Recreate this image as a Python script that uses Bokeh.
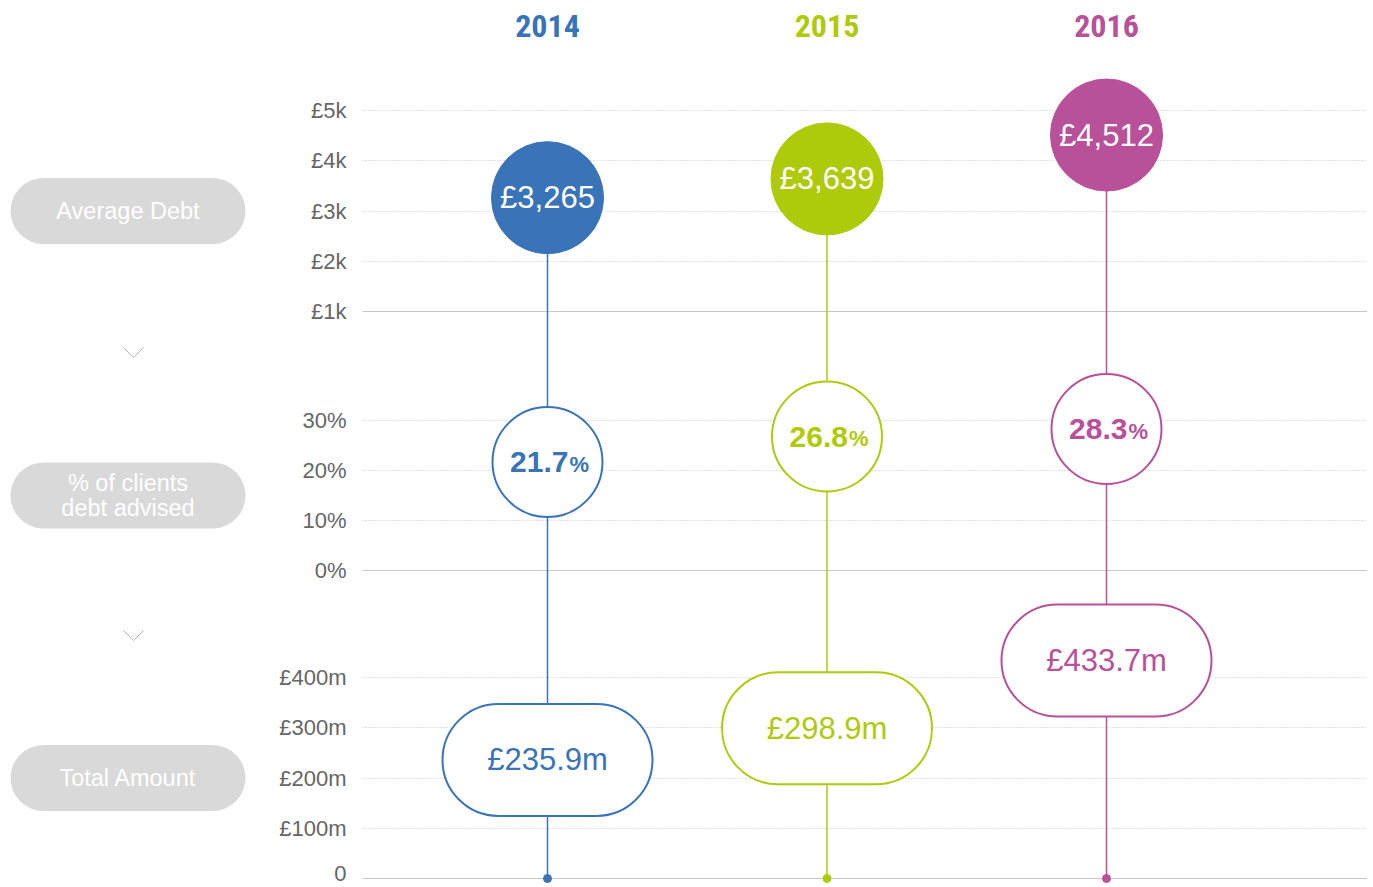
from bokeh.plotting import figure
from bokeh.models import Range1d, FixedTicker, LinearAxis, Grid
from bokeh.layouts import row
from bokeh.core.properties import value
from bokeh.embed import file_html
from bokeh.resources import INLINE

# ---------------- data ----------------
years = ["2014", "2015", "2016"]
year_colors = ["#3973b8", "#afca0b", "#b9509a"]

avg_debt = [3265, 3639, 4512]
avg_debt_labels = ["£3,265", "£3,639", "£4,512"]

pct_advised = [21.7, 26.8, 28.3]
pct_labels = ["21.7", "26.8", "28.3"]

total_amount = [235.9, 298.9, 433.7]
total_labels = ["£235.9m", "£298.9m", "£433.7m"]

debt_ticks = [1000, 2000, 3000, 4000, 5000]
debt_tick_labels = ["£1k", "£2k", "£3k", "£4k", "£5k"]
pct_ticks = [0, 10, 20, 30]
pct_tick_labels = ["0%", "10%", "20%", "30%"]
total_ticks = [0, 100, 200, 300, 400]
total_tick_labels = ["0", "£100m", "£200m", "£300m", "£400m"]

section_labels = ["Average Debt", "% of clients\ndebt advised", "Total Amount"]

# ---------------- layout constants (screen pixels) ----------------
FONT_NAME = "Liberation Sans"
FONT = value(FONT_NAME)
YEAR_FONT = value("Roboto Condensed, DejaVu Sans Condensed, Liberation Sans Narrow, Liberation Sans")
LEFT_W = 270
RIGHT_W = 1097
AXIS_PX = 362
H = 885
YEAR_Y = 25
GRID_COLOR = "#c4c4c4"
BASE_COLOR = "#c8c8c8"
TICK_COLOR = "#666666"

xs = list(range(len(years)))
X_PX0, X_STEP = 547, 279.5
x_range = Range1d((LEFT_W - X_PX0) / X_STEP, (LEFT_W + RIGHT_W - X_PX0) / X_STEP)
X_AXIS = (AXIS_PX - X_PX0) / X_STEP


def px_range(anchor_px, anchor_val, ppu):
    """A range that spans the whole frame height (0 .. H px, top to bottom)."""
    return Range1d(start=anchor_val - (H - anchor_px) / ppu, end=anchor_val + anchor_px / ppu)


def to_px(rng, v):
    return (rng.end - v) / (rng.end - rng.start) * H


def to_val(rng, px):
    return rng.end - px / H * (rng.end - rng.start)


ranges = {
    "debt": px_range(311, debt_ticks[0], 50.25 / 1000),
    "pct": px_range(570, pct_ticks[0], 5.0),
    "total": px_range(878, total_ticks[0], 0.5025),
}

p = figure(width=RIGHT_W, height=H, x_range=x_range, y_range=Range1d(H, 0),
           extra_y_ranges=ranges, output_backend="svg", toolbar_location=None,
           x_axis_location=None, y_axis_location=None, min_border=0)
p.title.visible = False
p.min_border_left = 0
p.min_border_right = 0
p.min_border_top = 0
p.min_border_bottom = 0
p.outline_line_color = None
p.grid.visible = False
p.background_fill_color = "white"
p.border_fill_color = "white"

HAS_CROSS = "cross_bounds" in Grid.properties()


def add_grid(name, ticks, color, dash):
    if HAS_CROSS:
        p.add_layout(Grid(dimension=1, y_range_name=name, ticker=FixedTicker(ticks=ticks),
                          cross_bounds=(X_AXIS, x_range.end), grid_line_color=color,
                          grid_line_dash=dash, grid_line_width=1))
    else:
        p.segment(x0=[X_AXIS] * len(ticks), y0=ticks, x1=[x_range.end] * len(ticks), y1=ticks,
                  y_range_name=name, line_color=color, line_dash=dash, line_width=1)


def add_axis(name, ticks, labels):
    ax = LinearAxis(y_range_name=name, ticker=FixedTicker(ticks=ticks),
                    major_label_overrides=dict(zip(ticks, labels)),
                    fixed_location=X_AXIS)
    ax.axis_line_color = None
    ax.major_tick_line_color = None
    ax.minor_tick_line_color = None
    ax.major_label_standoff = 10
    ax.major_label_text_font = FONT_NAME
    ax.major_label_text_font_size = "22px"
    ax.major_label_text_color = TICK_COLOR
    p.add_layout(ax, "left")
    add_grid(name, ticks[1:], GRID_COLOR, "1 2")
    add_grid(name, ticks[:1], BASE_COLOR, "solid")


add_axis("debt", debt_ticks, debt_tick_labels)
add_axis("pct", pct_ticks, pct_tick_labels)
add_axis("total", total_ticks, total_tick_labels)

# years
p.text(x=xs, y=[YEAR_Y] * len(xs), text=years, text_color=year_colors,
       text_align="center", text_baseline="middle", text_font=YEAR_FONT,
       text_font_size="32px", text_font_style="bold")

# stems: from each average-debt bubble down to the zero of the total-amount scale
stem_end = to_val(ranges["debt"], to_px(ranges["total"], total_ticks[0]))
p.segment(x0=xs, y0=avg_debt, x1=xs, y1=[stem_end] * len(xs), y_range_name="debt",
          line_color=year_colors, line_width=1.5)
p.scatter(x=xs, y=[total_ticks[0]] * len(xs), size=8, color=year_colors, y_range_name="total")

# average debt
p.scatter(x=xs, y=avg_debt, size=112, fill_color=year_colors, line_color=year_colors,
          y_range_name="debt")
p.text(x=xs, y=avg_debt, text=avg_debt_labels, text_color="white", text_align="center",
       text_baseline="middle", text_font=FONT, text_font_size="31px", y_range_name="debt")

# % advised
p.scatter(x=xs, y=pct_advised, size=110, fill_color="white", line_color=year_colors,
          line_width=2, y_range_name="pct")
p.text(x=xs, y=pct_advised, text=pct_labels, text_color=year_colors, text_align="right",
       text_baseline="middle", x_offset=21, y_offset=0, text_font=FONT,
       text_font_size="30px", text_font_style="bold", y_range_name="pct")
p.text(x=xs, y=pct_advised, text=["%"] * len(xs), text_color=year_colors, text_align="left",
       text_baseline="middle", x_offset=22, y_offset=2, text_font=FONT,
       text_font_size="22px", text_font_style="bold", y_range_name="pct")

# total amount
p.rect(x=xs, y=total_amount, width=210, height=112, width_units="screen",
       height_units="screen", fill_color="white", line_color=year_colors, line_width=2,
       border_radius=56, y_range_name="total")
p.text(x=xs, y=total_amount, text=total_labels, text_color=year_colors, text_align="center",
       text_baseline="middle", text_font=FONT, text_font_size="31px", y_range_name="total")

# ---------------- left labels ----------------
left = figure(width=LEFT_W, height=H, x_range=Range1d(0, LEFT_W), y_range=Range1d(H, 0),
              output_backend="svg", toolbar_location=None,
              x_axis_location=None, y_axis_location=None, min_border=0)
left.title.visible = False
left.outline_line_color = None
left.grid.visible = False

pill_y = [to_px(ranges["debt"], sum(debt_ticks) / len(debt_ticks)),
          to_px(ranges["pct"], (pct_ticks[0] + pct_ticks[-1]) / 2),
          to_px(ranges["total"], (total_ticks[0] + total_ticks[-1]) / 2)]
left.rect(x=[127.5] * 3, y=pill_y, width=235, height=66, fill_color="#d9d9d9",
          line_color=None, border_radius=33)
left.text(x=[127.5] * 3, y=pill_y, text=section_labels, text_color="white",
          text_align="center", text_baseline="middle", text_font=FONT,
          text_font_size="23.5px", text_line_height=0.93)
chev_y = [347, 630]
left.multi_line(xs=[[123, 133, 143] for _ in chev_y],
                ys=[[cy, cy + 10, cy] for cy in chev_y],
                line_color="#b5b5b5", line_width=1)

layout = row(left, p)
open("out.html", "w").write(file_html(layout, INLINE))
